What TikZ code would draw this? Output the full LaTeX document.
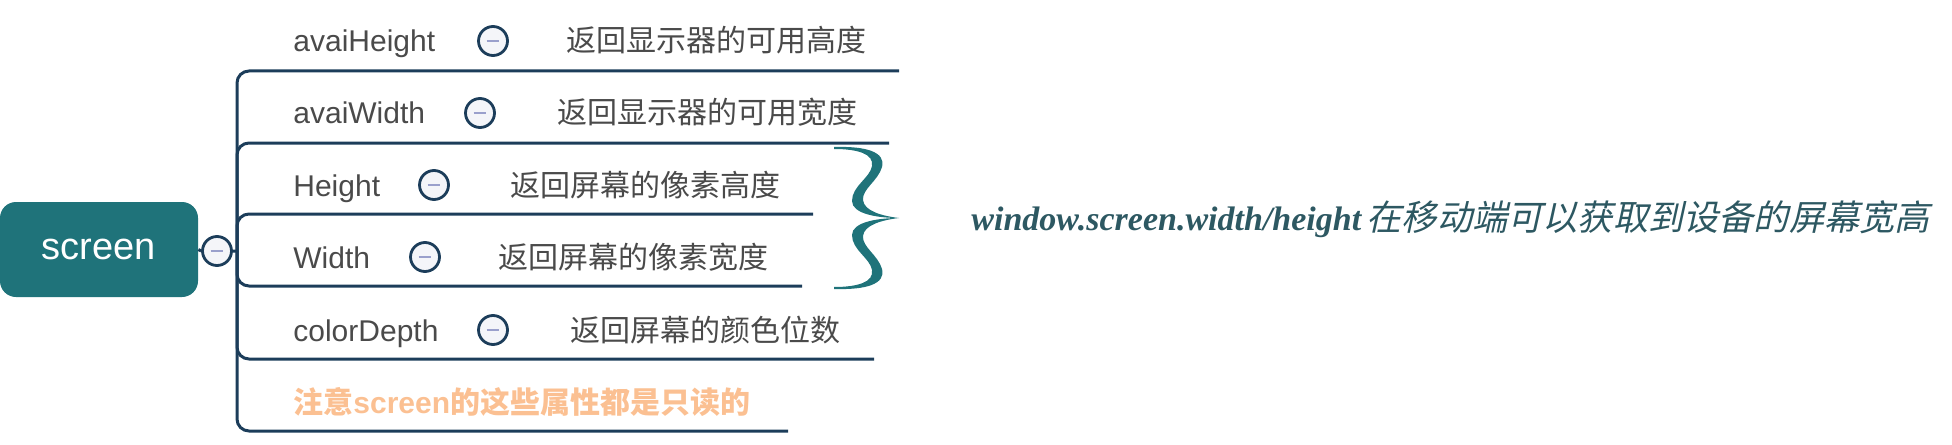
\documentclass[tikz,border=0pt]{standalone}
\usepackage{fontspec}
\setmainfont{Liberation Sans}
\newfontfamily\cjk{Noto Sans CJK SC}
\newfontfamily\cjkit[FakeSlant=0.22]{Noto Sans CJK SC}
\newfontfamily\rlatin{Liberation Serif}
\definecolor{rootfill}{HTML}{1F737A}
\definecolor{branchc}{HTML}{1C3D5A}
\definecolor{textgray}{HTML}{4A4A4A}
\definecolor{notec}{HTML}{FBC092}
\definecolor{bracec}{HTML}{1F737A}
\definecolor{rtextc}{HTML}{2D5862}
\definecolor{togfill}{HTML}{F4F5F9}
\definecolor{minusc}{HTML}{9AA0CC}
\begin{document}
\begin{tikzpicture}[x=0.5pt,y=-0.5pt,
  br/.style={draw=branchc,line width=1.5pt,rounded corners=6pt},
  lab/.style={anchor=base west,inner sep=0,text=textgray,font=\fontsize{15pt}{18pt}\selectfont},
  desc/.style={anchor=base west,inner sep=0,text=textgray,font=\fontsize{15pt}{18pt}\selectfont\cjk},
  tog/.style={circle,draw=branchc,line width=1.4pt,fill=togfill,minimum size=14.5pt,inner sep=0,
    path picture={\draw[line width=1.3pt,draw=minusc] ([xshift=-3.2pt]path picture bounding box.center) -- ([xshift=3.2pt]path picture bounding box.center);}}
]
\useasboundingbox (0,0) rectangle (1952,444);
\node[fill=rootfill,rounded corners=8pt,minimum width=99pt,minimum height=47.5pt,inner sep=0,text=white,font=\fontsize{19pt}{22pt}\selectfont] (root) at (99,249.5) {screen};
\node[tog] (rt) at (217,251) {};
\coordinate (j) at (237,251);
\draw[branchc,line width=1.5pt] (root.east) -- (rt.west) (rt.east) -- (j);
% row 1
\node[lab] (l1) at (293,52) {avaiHeight};
\node[tog] (t1) at (493,41) {};
\node[desc] (d1) at (566,52) {返回显示器的可用高度};
\coordinate (e1) at (899,71);
\draw[br] (j) |- (e1);
% row 2
\node[lab] (l2) at (293,124) {avaiWidth};
\node[tog] (t2) at (480,113) {};
\node[desc] (d2) at (557,124) {返回显示器的可用宽度};
\coordinate (e2) at (889,143);
\draw[br] (j) |- (e2);
% row 3
\node[lab] (l3) at (293,196) {Height};
\node[tog] (t3) at (434,185) {};
\node[desc] (d3) at (510,196) {返回屏幕的像素高度};
\coordinate (e3) at (813,214);
\draw[br] (j) |- (e3);
% row 4
\node[lab] (l4) at (293,268) {Width};
\node[tog] (t4) at (425,257) {};
\node[desc] (d4) at (498,268) {返回屏幕的像素宽度};
\coordinate (e4) at (802,286);
\draw[br] (j) |- (e4);
% row 5
\node[lab] (l5) at (293,341) {colorDepth};
\node[tog] (t5) at (493,330) {};
\node[desc] (d5) at (570,341) {返回屏幕的颜色位数};
\coordinate (e5) at (874,359);
\draw[br] (j) |- (e5);
% row 6
\node[lab,text=notec,font=\fontsize{15pt}{18pt}\selectfont\bfseries] (l6) at (293,413) {{\cjk 注意}screen{\cjk 的这些属性都是只读的}};
\coordinate (e6) at (788,431);
\draw[br] (j) |- (e6);
% brace
\fill[bracec] (834,147) .. controls (866,146) and (886,152) .. (882,167)
  .. controls (878,181) and (862,189) .. (863,200)
  .. controls (864,211) and (882,216) .. (899,218)
  .. controls (878,218) and (852,214) .. (852,201)
  .. controls (852,186) and (870,178) .. (872,166)
  .. controls (874,154) and (858,149) .. (834,149) -- cycle;
\fill[bracec] (834,289) .. controls (866,290) and (886,284) .. (882,269)
  .. controls (878,255) and (862,247) .. (863,236)
  .. controls (864,225) and (882,220) .. (899,218)
  .. controls (878,218) and (852,222) .. (852,235)
  .. controls (852,250) and (870,258) .. (872,270)
  .. controls (874,282) and (858,287) .. (834,287) -- cycle;
% right text
\node[anchor=base west,inner sep=0,text=rtextc] (rt2) at (971,230)
  {{\rlatin\bfseries\itshape\fontsize{17pt}{20pt}\selectfont window.screen.width/height} {\cjkit\fontsize{17.6pt}{20pt}\selectfont 在移动端可以获取到设备的屏幕宽高}};
\end{tikzpicture}
\end{document}
